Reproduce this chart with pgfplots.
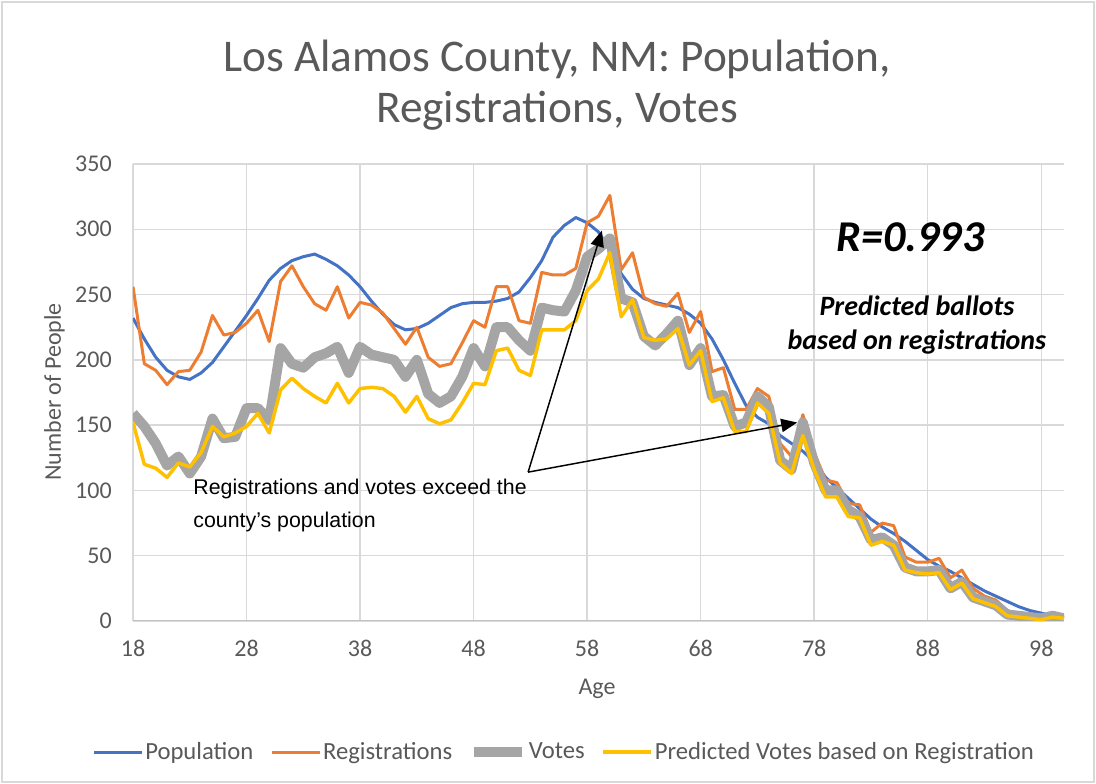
\documentclass[border=0pt]{standalone}
\usepackage{pgfplots}
\usepackage{pgfplotstable}
\usepackage{fontspec}
\pgfplotsset{compat=1.18}
\usetikzlibrary{arrows.meta}
\setmainfont{Carlito}
\newfontfamily\arial{Liberation Sans}
\definecolor{popblue}{HTML}{4472C4}
\definecolor{regorange}{HTML}{ED7D31}
\definecolor{votegray}{HTML}{A5A5A5}
\definecolor{predyellow}{HTML}{FFC000}
\definecolor{txtgray}{HTML}{595959}
\definecolor{gridgray}{HTML}{D9D9D9}

% age, population, registrations, votes, predicted votes
\pgfplotstableread{
age pop reg votes pred
18 232 256 159 152
19 216 197 149 120
20 202 192 136 117
21 192 181 119 110
22 187 191 126 121
23 185 192 113 118
24 190 206 126 129
25 198 234 155 149
26 210 219 140 141
27 222 221 141 144
28 234 228 163 149
29 247 238 163 159
30 261 214 154 144
31 270 260 209 177
32 276 272 197 186
33 279 256 194 178
34 281 243 202 172
35 277 238 205 167
36 272 256 210 182
37 265 232 190 167
38 256 244 210 178
39 245 242 204 179
40 235 236 202 178
41 227 224 200 172
42 223 212 187 160
43 224 225 200 172
44 228 202 174 155
45 234 195 167 151
46 240 197 172 154
47 243 213 187 167
48 244 230 209 182
49 244 225 195 181
50 245 256 225 207
51 247 256 225 209
52 252 230 215 192
53 263 228 207 188
54 276 267 240 223
55 294 265 238 223
56 303 265 237 223
57 309 270 253 230
58 305 305 279 253
59 298 310 285 262
60 284 326 293 282
61 266 269 247 233
62 254 282 244 246
63 247 248 218 217
64 244 243 211 215
65 242 241 220 216
66 240 251 230 224
67 235 221 196 196
68 228 237 209 207
69 216 191 172 168
70 200 194 173 171
71 182 162 149 145
72 165 162 152 145
73 156 178 172 167
74 151 172 164 159
75 142 136 123 121
76 136 126 116 113
77 130 158 152 142
78 122 129 121 116
79 110 108 100 95
80 102 106 100 95
81 94 90 85 80
82 86 89 80 79
83 78 68 62 58
84 72 75 64 61
85 67 73 58 58
86 61 49 41 39
87 54 45 38 37
88 47 45 38 36
89 42 48 39 37
90 38 33 25 24
91 33 39 30 29
92 28 25 18 17
93 23 19 15 14
94 19 16 12 11
95 15 8 5 4
96 11 5 4 3
97 8 4 3 2
98 6 3 2 1
99 4 5 4 3
100 3 3 2 2
}\datatable

\begin{document}
\begin{tikzpicture}
\useasboundingbox (-99.75pt,-122.25pt) rectangle (722.25pt,465.75pt);
\draw[gridgray, line width=1.2pt] (-98.25pt,-120.75pt) rectangle (720.75pt,464.25pt);
\begin{axis}[
  at={(0pt,0pt)}, anchor=south west,
  scale only axis,
  width=698.25pt, height=342.75pt,
  xmin=18, xmax=100, ymin=0, ymax=350,
  xtick={18,28,...,98},
  ytick={0,50,...,350},
  grid=major,
  major grid style={gridgray, line width=1.1pt},
  major tick length=0pt,
  axis line style={draw=none},
  /pgf/number format/assume math mode=true,
  tick label style={font=\fontsize{18}{22}\selectfont, text=txtgray},
  yticklabel style={inner sep=0pt, xshift=-15.75pt},
  xticklabel style={inner sep=0pt, yshift=-14pt},
  legend columns=4,
  legend style={at={(0.463,-0.2867)}, anchor=center, draw=none,
    font=\fontsize{18.5}{22}\selectfont, text=txtgray,
    nodes={inner xsep=1.5pt},
    /tikz/every even column/.append style={column sep=11pt}},
  legend image code/.code={\draw[#1, line cap=butt] (0pt,0pt) -- (36pt,0pt);},
  every axis plot/.append style={line join=round},
]
\draw[color=gridgray!75!gray, line width=1.2pt] (axis cs:18,0) -- (axis cs:100,0);
\addplot[color=popblue, line width=2.25pt] table[x=age, y=pop] {\datatable};
\addplot[color=regorange, line width=2.25pt] table[x=age, y=reg] {\datatable};
\addplot[color=votegray, line width=7.5pt] table[x=age, y=votes] {\datatable};
\addplot[color=predyellow, line width=2.6pt] table[x=age, y=pred] {\datatable};
\legend{Population, Registrations, Votes, Predicted Votes based on Registration}

\draw[black, line width=1.1pt, -{Triangle[length=12pt,width=10pt]}] (axis cs:52.8,114) -- (axis cs:59.3,299);
\draw[black, line width=1.1pt, -{Triangle[length=12pt,width=10pt]}] (axis cs:52.8,114) -- (axis cs:76.5,152);
\node[anchor=north west, align=left, inner sep=0pt, font=\arial\fontsize{16}{25}\selectfont]
  at (axis cs:23.3,109) {Registrations and votes exceed the\\county’s population};
\node[font=\fontsize{33}{38}\selectfont\bfseries\itshape] at (axis cs:86.5,294) {R=0.993};
\node[align=center, font=\fontsize{21}{25.5}\selectfont\bfseries\itshape] at (axis cs:87.05,226.6)
  {Predicted ballots\\based on registrations};
\end{axis}
\node[anchor=base, text=txtgray, font=\fontsize{34}{40}\selectfont] at (318pt,412pt) {Los Alamos County, NM: Population,};
\node[anchor=base, text=txtgray, font=\fontsize{34}{40}\selectfont] at (318pt,374pt) {Registrations, Votes};
\node[anchor=base, text=txtgray, font=\fontsize{18}{22}\selectfont] at (348pt,-55.5pt) {Age};
\node[anchor=base, rotate=90, text=txtgray, font=\fontsize{18}{22}\selectfont] at (-54pt,171.75pt) {Number of People};
\end{tikzpicture}
\end{document}
